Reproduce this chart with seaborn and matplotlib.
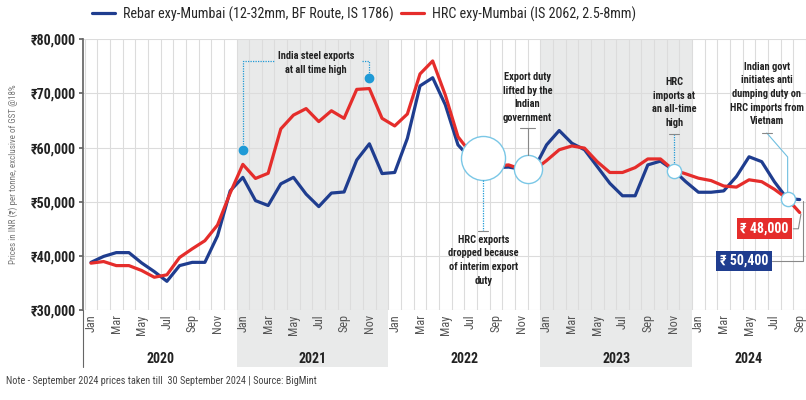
import numpy as np
import pandas as pd
import matplotlib
matplotlib.use("Agg")
import matplotlib.pyplot as plt
import matplotlib.transforms as mtransforms
from matplotlib import font_manager
import seaborn as sns

# monthly prices, Jan 2020 -> Sep 2024 (INR per tonne)
years = [2020, 2021, 2022, 2023, 2024]
month_names = ["Jan", "Feb", "Mar", "Apr", "May", "Jun",
               "Jul", "Aug", "Sep", "Oct", "Nov", "Dec"]

rebar = [38800, 39900, 40600, 40600, 38700, 37100, 35300, 38200, 38800, 38800, 43700, 52000,
         54500, 50200, 49300, 53300, 54500, 51400, 49100, 51600, 51800, 57700, 60700, 55200,
         55400, 61700, 71400, 72900, 67900, 60500, 58000, 57000, 56300, 56400, 56000, 56000,
         60500, 63150, 60800, 59600, 56500, 53400, 51100, 51100, 56800, 57500, 55900, 53700,
         51750, 51750, 52000, 54650, 58300, 57400, 53700, 50600, 50400]
hrc = [38650, 38950, 38200, 38200, 37300, 36050, 36500, 39700, 41300, 42800, 45700, 51600,
       56900, 54300, 55250, 63450, 66000, 67200, 64800, 66800, 65400, 70750, 70900, 65400,
       64000, 66200, 73600, 76000, 69700, 62000, 59000, 57200, 56600, 56800, 56000, 55800,
       57600, 59600, 60300, 59900, 57400, 55400, 55400, 56300, 57900, 57900, 55900, 55150,
       54350, 53900, 52900, 52700, 54050, 53700, 52300, 50600, 48000]

series_names = ["Rebar exy-Mumbai (12-32mm, BF Route, IS 1786)",
                "HRC exy-Mumbai (IS 2062, 2.5-8mm)"]
yticks = [30000, 40000, 50000, 60000, 70000, 80000]

# event markers (month index, price) and their notes
export_high_pts = [(12, 59550), (22, 72800)]
events = [
    (31.0, 58000, "HRC exports\ndropped because\nof interim export\nduty"),
    (34.5, 56000, "Export duty\nlifted by the\nIndian\ngovernment"),
    (46.1, 55700, "HRC\nimports at\nan all-time\nhigh"),
    (55.05, 50450, "Indian govt\ninitiates anti\ndumping duty on\nHRC imports from\nVietnam"),
]

BLUE = "#1f3d8f"
RED = "#e52d2b"
LIGHTBLUE = "#1f9ad6"
SHADE = "#e9eaea"

n = len(rebar)
m = np.arange(n)
df = pd.DataFrame({
    "m": np.concatenate([m, m]),
    "price": rebar + hrc,
    "series": [series_names[0]] * n + [series_names[1]] * n,
})

installed = {f.name for f in font_manager.fontManager.ttflist}
cond = [f for f in ["Roboto Condensed", "Liberation Sans Narrow", "Open Sans Condensed"]
        if f in installed]

sns.set_theme(style="white")
plt.rcParams["font.family"] = cond + ["Roboto", "DejaVu Sans"]

fig = plt.figure(figsize=(8.06, 4.0), dpi=100)
ax = fig.add_axes([83 / 806, 1 - 310 / 400, 723 / 806, 270.7 / 400])

xmin, xmax = -0.63, 56.4
ax.set_xlim(xmin, xmax)
ax.set_ylim(30000, 80000)

# shaded alternate years, extended into the year label row
for i, yr in enumerate(years):
    lo = 12 * i - 0.5
    hi = min(12 * i + 11, n - 1) + 0.5
    if i % 2 == 1:
        r = ax.axvspan(lo, hi, ymin=-0.21, ymax=1, color=SHADE, zorder=0, lw=0)
        r.set_clip_on(False)
    ax.text((lo + min(hi, xmax)) / 2, -0.182, str(yr),
            transform=mtransforms.blended_transform_factory(ax.transData, ax.transAxes),
            ha="center", va="center", fontsize=10, fontweight="bold", color="#222")

sns.lineplot(data=df, x="m", y="price", hue="series",
             palette=[BLUE, RED], linewidth=2.3, ax=ax, legend=False, zorder=3)

# grid
ax.set_xticks(np.arange(0, n, 2))
ax.set_xticklabels([month_names[k % 12] for k in range(0, n, 2)],
                   rotation=90, fontsize=8.8, color="#555")
ax.set_xticks(np.arange(-0.5, n, 1), minor=True)
ax.grid(axis="x", which="minor", color="#dcdcdc", lw=0.8)
ax.grid(axis="y", which="major", color="#dcdcdc", lw=0.8)
ax.tick_params(axis="x", which="both", length=0, pad=3)
ax.set_yticks(yticks)
ax.set_yticklabels([f"₹{v:,}" for v in yticks], fontsize=10, fontweight="bold", color="#222")
ax.tick_params(axis="y", length=3, color="#666", pad=2, left=True)
for s in ["top", "right", "bottom"]:
    ax.spines[s].set_visible(False)
ax.spines["left"].set_color("#666")
ax.axvline(xmin, ymin=-0.21, ymax=0, color="#666", lw=0.8, clip_on=False)
ax.set_xlabel("")
ax.set_ylabel("Prices in INR (₹) per tonne, exclusive of GST @18%",
              fontsize=6.5, color="#777", labelpad=9)

# notes
note_kw = dict(ha="center", va="center", fontsize=7.5, fontweight="bold",
               color="#222", linespacing=1.45, zorder=6)
dot_kw = dict(color=LIGHTBLUE, lw=0.9, ls=(0, (1, 1)), zorder=5)
ax.scatter(*zip(*export_high_pts), s=36, color=LIGHTBLUE, zorder=6)
ax.text(17.8, 75600, "India steel exports\nat all time high", **note_kw)
ax.plot([12, 12, 14.5], [60600, 76050, 76050], **dot_kw)
ax.plot([21.45, 22, 22], [76050, 76050, 73800], **dot_kw)

sizes = [1005, 410, 105, 105]
for (em, ev, txt), sz in zip(events, sizes):
    ax.scatter([em], [ev], s=sz, facecolor="white", edgecolor="#7ac7e6",
               linewidth=1.0, zorder=5)

# HRC exports dropped (below)
ax.text(31.0, 39200, events[0][2], **note_kw)
ax.plot([31.0, 31.0], [54000, 44600], **dot_kw)
ax.plot([30.6, 31.4], [44600, 44600], color="#888", lw=0.8, zorder=5)
# Export duty lifted (above)
ax.text(34.5, 69250, events[1][2], **note_kw)
ax.plot([34.5, 34.5], [63560, 58600], color="#888", lw=0.8, zorder=5)
ax.plot([33.9, 35.1], [63560, 63560], color="#888", lw=0.8, zorder=5)
# HRC imports high
ax.text(46.1, 68300, events[2][2], **note_kw)
ax.plot([46.1, 46.1], [62500, 57000], **dot_kw)
ax.plot([45.7, 46.5], [62500, 62500], color="#888", lw=0.8, zorder=5)
# anti dumping
ax.text(53.4, 69900, events[3][2], **note_kw)
ax.plot([53.4, 55.05, 55.05], [62700, 58270, 51800], color="#6fbfe0", lw=0.8, zorder=5)
ax.plot([53.0, 53.8], [62700, 62700], color="#888", lw=0.8, zorder=5)

# end value labels
ax.plot([55.5, 55.9, 56.1], [45000, 45000, 47700], color="#888", lw=0.8, zorder=5,
        clip_on=False)
ax.plot([53.8, 56.25, 56.25], [39050, 39050, 50100], color="#888", lw=0.8, zorder=5,
        clip_on=False)
box_kw = dict(ha="center", va="center", fontsize=10, fontweight="bold", color="white",
              zorder=7)
ax.text(53.2, 45000, f"₹ {hrc[-1]:,}",
        bbox=dict(boxstyle="square,pad=0.25", fc=RED, ec="none"), **box_kw)
ax.text(51.6, 39050, f"₹ {rebar[-1]:,}",
        bbox=dict(boxstyle="square,pad=0.25", fc=BLUE, ec="none"), **box_kw)

# legend
handles = [plt.Line2D([], [], color=BLUE, lw=2.3), plt.Line2D([], [], color=RED, lw=2.3)]
fig.legend(handles, series_names, loc="center", bbox_to_anchor=(364 / 806, 1 - 14 / 400),
           ncol=2, frameon=False, fontsize=10.2, handlelength=1.6, columnspacing=0.5,
           handletextpad=0.6)

fig.text(6 / 806, 1 - 381 / 400,
         "Note - September 2024 prices taken till  30 September 2024 | Source: BigMint",
         fontsize=7.4, color="#444", va="center", ha="left")

fig.savefig("out.png", dpi=100)
